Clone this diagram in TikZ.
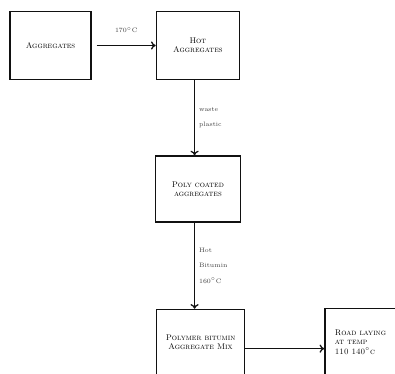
\documentclass[tikz,border=0pt]{standalone}
\usepackage{amsmath,amssymb}
\usepackage{xcolor}
\usepackage{tikz}
\usetikzlibrary{
  arrows.meta,
  positioning
}
\definecolor{darkgrey}{HTML}{111111}
\tikzset{
  stagebox/.style={
    rectangle, draw=darkgrey, line width=1.2pt, fill=white,
    minimum width=#1, minimum height=2.05cm, align=center,
    font=\scriptsize\scshape, inner sep=2pt
  },
  flowarrow/.style={
    -{To[length=4pt,width=7pt]}, line width=1.1pt, color=darkgrey
  },
  annot/.style={
    font=\fontsize{5.5}{13}\selectfont, color=darkgrey!80, align=left
  },
}

\begin{document}
\begin{tikzpicture}[
  node distance=2.25cm and 1.92cm
]
  \useasboundingbox (0,0) rectangle (11.85,-11.22);

  %% -- Heating ---------------------------------------------------------------
  \node[stagebox=2.43cm] (aggr) at (1.515,-1.365) {Aggregates};
  \node[stagebox=2.49cm, right=1.92cm of aggr] (hotaggr) {Hot\\Aggregates};

  %% -- Coating ---------------------------------------------------------------
  \node[stagebox=2.55cm, below=2.25cm of hotaggr, minimum height=1.98cm] (polyaggr)
       {Poly coated\\aggregates};
  \node[stagebox=2.64cm, below=2.58cm of polyaggr, minimum height=1.95cm,
        xshift=0.08cm] (mix) {Polymer bitumin\\Aggregate Mix};

  %% -- Laying ----------------------------------------------------------------
  \node[stagebox=2.13cm, right=2.37cm of mix, minimum height=2.01cm, align=left]
       (laying) {Road laying\\at temp\\110 140$^{\circ}$c};

  %% -- Arrows ----------------------------------------------------------------
  \draw[flowarrow] ([xshift=0.15cm]aggr.east) -- node[above=0.25cm,annot]{170$^{\circ}$C} (hotaggr);
  \draw[flowarrow] ([xshift=-0.1cm]hotaggr.south) -- node[right,annot]{waste\\plastic}
       ([xshift=-0.1cm]hotaggr.south |- polyaggr.north);
  \draw[flowarrow] ([xshift=-0.1cm]polyaggr.south) -- node[right,annot]{Hot\\Bitumin\\160$^{\circ}$C}
       ([xshift=-0.1cm]polyaggr.south |- mix.north);
  \draw[flowarrow] ([yshift=-0.2cm]mix.east) -- ([yshift=-0.2cm]mix.east -| laying.west);

\end{tikzpicture}
\end{document}
